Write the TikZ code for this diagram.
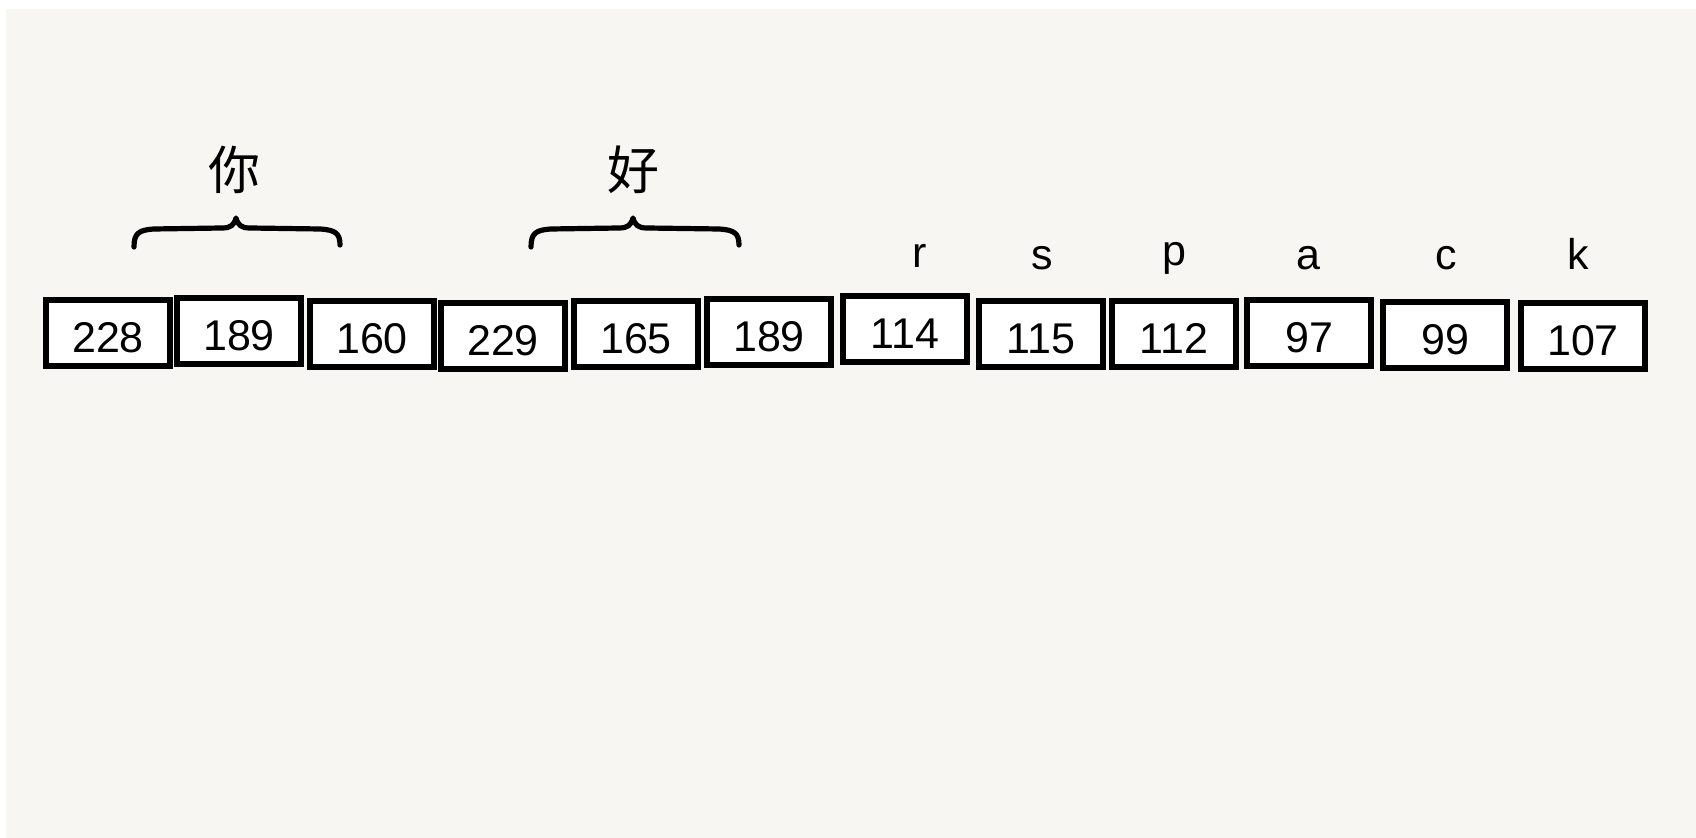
\documentclass[tikz,border=0pt]{standalone}
\usepackage{fontspec}
\setmainfont{Liberation Sans}
\newfontfamily\cjk{Noto Sans CJK SC}
\definecolor{bgpaper}{HTML}{F7F6F2}
\begin{document}
\begin{tikzpicture}[x=0.5pt,y=-0.5pt,
  cell/.style={draw=black, line width=2.7pt, fill=white, minimum width=62pt, minimum height=33pt, inner sep=0pt, text height=20pt, text depth=0pt, font=\fontsize{21.5}{24}\selectfont},
  lbl/.style={anchor=base, inner sep=0pt, font=\fontsize{21.5}{24}\selectfont},
  han/.style={anchor=base, inner sep=0pt, font=\cjk\fontsize{26}{30}\selectfont},
  brace/.style={draw=black, line width=2.6pt, line cap=round, line join=round}]
\useasboundingbox (0,0) rectangle (1696,838);
\fill[white] (0,0) rectangle (1696,838);
\fill[bgpaper] (6,9) rectangle (1696,838);
% cells
\node[cell] (c1)  at (108,333) {228};
\node[cell] (c2)  at (239,331) {189};
\node[cell] (c3)  at (372,334) {160};
\node[cell] (c4)  at (503,336) {229};
\node[cell] (c5)  at (636,334) {165};
\node[cell] (c6)  at (769,332) {189};
\node[cell] (c7)  at (905,329) {114};
\node[cell] (c8)  at (1041,334) {115};
\node[cell] (c9)  at (1174,334) {112};
\node[cell] (c10) at (1309,333) {97};
\node[cell] (c11) at (1445,335) {99};
\node[cell] (c12) at (1583,336) {107};
% letter labels
\node[lbl] (lr) at (920,268) {r};
\node[lbl] (ls) at (1042,270) {s};
\node[lbl] (lp) at (1174,266) {p};
\node[lbl] (la) at (1308,270) {a};
\node[lbl] (lc) at (1446,270) {c};
\node[lbl] (lk) at (1578,270) {k};
% chinese labels
\node[han] (ni) at (234,190) {你};
\node[han] (hao) at (633,190) {好};
% braces
\draw[brace] (134,247) .. controls (134,233) and (139,230) .. (154,229)
  -- (222,228) .. controls (231,228) and (234,225) .. (236,218)
  .. controls (238,225) and (241,228) .. (250,228)
  -- (320,229) .. controls (335,230) and (340,233) .. (340,245);
\draw[brace] (531,247) .. controls (531,233) and (536,230) .. (551,229)
  -- (619,228) .. controls (628,228) and (631,225) .. (633,218)
  .. controls (635,225) and (638,228) .. (647,228)
  -- (719,229) .. controls (734,230) and (739,233) .. (739,245);
\end{tikzpicture}
\end{document}
